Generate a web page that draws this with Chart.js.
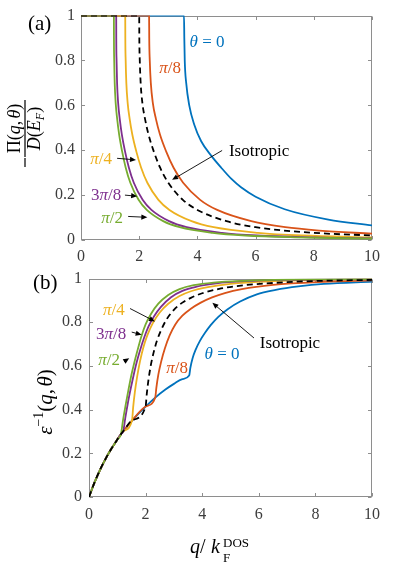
<!DOCTYPE html>
<html>
<head>
<meta charset="utf-8">
<script src="https://cdn.jsdelivr.net/npm/chart.js@4.4.1/dist/chart.umd.min.js"></script>
<style>
html,body{margin:0;padding:0;background:#fff;}
#wrap{position:relative;width:395px;height:568px;overflow:hidden;}
#ca{position:absolute;left:0;top:0;}
#cb{position:absolute;left:0;top:262px;}
</style>
</head>
<body>
<div id="wrap">
  <canvas id="ca" width="395" height="270" style="width:395px;height:270px"></canvas>
  <canvas id="cb" width="395" height="306" style="width:395px;height:306px"></canvas>
</div>
<script>
// tick values shared by both panels
const xTicks=[0,2,4,6,8,10];
const yTicks=[0,0.2,0.4,0.6,0.8,1];

// (a)  -Pi(q,theta)/D(E_F)  vs  q/k_F^DOS
const qa0=[0,3.54,3.55,3.565,3.615,3.72,3.89,4.13,4.48,4.82,5.17,5.5,6,7,8.5,10];                      // theta = 0
const pa0=[1,1,0.90,0.80,0.70,0.60,0.515,0.44,0.375,0.322,0.272,0.235,0.193,0.137,0.091,0.065];
const qa1=[0,2.34,2.345,2.363,2.399,2.469,2.574,2.714,2.925,3.182,3.51,4.095,4.68,5.85,7.02,8.19,10];    // pi/8
const pa1=[1,1,0.90,0.80,0.70,0.61,0.54,0.47,0.395,0.322,0.255,0.179,0.134,0.084,0.057,0.042,0.028];
const qa2=[0,1.52,1.523,1.535,1.558,1.604,1.672,1.763,1.90,2.067,2.28,2.66,3.04,3.8,4.56,6.08,7.6,10];  // pi/4
const pa2=[1,1,0.90,0.80,0.70,0.61,0.54,0.47,0.395,0.322,0.255,0.179,0.134,0.084,0.057,0.032,0.020,0.012];
const qa3=[0,1.21,1.212,1.222,1.24,1.277,1.331,1.404,1.513,1.646,1.815,2.118,2.42,3.025,3.63,4.84,6.05,7.865,10]; // 3pi/8
const pa3=[1,1,0.90,0.80,0.70,0.61,0.54,0.47,0.395,0.322,0.255,0.179,0.134,0.084,0.057,0.032,0.020,0.012,0.007];
const qa4=[0,1.13,1.132,1.141,1.158,1.192,1.243,1.311,1.413,1.537,1.695,1.978,2.26,2.825,3.39,4.52,5.65,7.345,10]; // pi/2
const pa4=[1,1,0.90,0.80,0.70,0.61,0.54,0.47,0.395,0.322,0.255,0.179,0.134,0.084,0.057,0.032,0.020,0.012,0.006];
const qaI=[0,2,2.004,2.02,2.05,2.11,2.2,2.32,2.5,2.72,3,3.5,4,5,6,8,10];                                 // isotropic
const paI=[1,1,0.90,0.80,0.70,0.61,0.54,0.47,0.395,0.322,0.255,0.179,0.134,0.084,0.057,0.032,0.020];

// (b)  eps^-1(q,theta)
const qb0=[0,0.2,0.4,0.6,0.8,1,1.13,1.21,1.52,2,2.34,2.7,3,3.3,3.54,3.58,3.66,3.77,3.92,4.1,4.3,4.57,4.9,5.34,5.93,6.6,7.4,8.3,10];
const eb0=[0,0.068,0.127,0.178,0.223,0.263,0.288,0.301,0.35,0.414,0.455,0.492,0.518,0.54,0.556,0.59,0.635,0.675,0.715,0.752,0.787,0.825,0.86,0.895,0.928,0.948,0.964,0.976,0.986];
const qb1=[0,0.2,0.4,0.6,0.8,1,1.13,1.21,1.52,2,2.34,2.38,2.45,2.55,2.68,2.85,3.05,3.3,3.6,3.95,4.35,4.8,5.4,6.5,8.3,10];
const eb1=[0,0.068,0.127,0.178,0.223,0.263,0.288,0.301,0.35,0.414,0.455,0.50,0.56,0.62,0.68,0.74,0.79,0.83,0.862,0.89,0.914,0.934,0.952,0.971,0.985,0.992];
const qb2=[0,0.2,0.4,0.6,0.8,1,1.13,1.21,1.52,1.56,1.62,1.7,1.8,1.92,2.06,2.25,2.5,2.8,3.2,3.6,4.2,5,6.5,8,10];
const eb2=[0,0.068,0.127,0.178,0.223,0.263,0.288,0.301,0.35,0.41,0.48,0.55,0.62,0.685,0.74,0.795,0.845,0.885,0.92,0.942,0.961,0.976,0.988,0.993,0.996];
const qb3=[0,0.2,0.4,0.6,0.8,1,1.13,1.21,1.28,1.38,1.48,1.58,1.68,1.8,1.95,2.1,2.3,2.55,2.9,3.3,3.8,4.5,5.5,7,10];
const eb3=[0,0.068,0.127,0.178,0.223,0.263,0.288,0.301,0.36,0.435,0.50,0.56,0.615,0.67,0.73,0.78,0.828,0.872,0.915,0.944,0.963,0.978,0.988,0.994,0.997];
const qb4=[0,0.2,0.4,0.6,0.8,1,1.13,1.2,1.3,1.4,1.5,1.6,1.7,1.85,2,2.2,2.45,2.8,3.2,3.7,4.4,5.5,7,10];
const eb4=[0,0.068,0.127,0.178,0.223,0.263,0.288,0.35,0.425,0.495,0.56,0.615,0.665,0.735,0.79,0.84,0.885,0.925,0.952,0.97,0.982,0.99,0.995,0.998];
const qbI=[0,0.2,0.4,0.6,0.8,1,1.13,1.21,1.52,2,2.04,2.1,2.18,2.28,2.4,2.55,2.75,3,3.3,3.6,4,4.6,5.3,6.5,8,10];
const ebI=[0,0.068,0.127,0.178,0.223,0.263,0.288,0.301,0.35,0.414,0.47,0.535,0.60,0.66,0.715,0.765,0.815,0.857,0.89,0.912,0.933,0.953,0.967,0.98,0.989,0.994];

const BLUE="#0072BD", ORANGE="#D95319", YELLOW="#EDB120", PURPLE="#7E2F8E", GREEN="#77AC30";
const SERIF='"Liberation Serif","Times New Roman",serif';
const TXT="#3c3c3c", AXIS="#8e8e8e";

const pts=(qs,vs)=>qs.map((q,i)=>({x:q,y:vs[i]}));
const line=(qs,vs,color,dash)=>({data:pts(qs,vs),borderColor:color,borderWidth:1.8,borderDash:dash||[],
  pointRadius:0,fill:false,cubicInterpolationMode:"monotone"});

// first dataset is drawn last (on top)
function sets(panel){
  if(panel==="a") return [line(qaI,paI,"#000",[6,4]),line(qa4,pa4,GREEN),line(qa3,pa3,PURPLE),line(qa2,pa2,YELLOW),line(qa1,pa1,ORANGE),line(qa0,pa0,BLUE)];
  return [line(qbI,ebI,"#000",[6,4]),line(qb4,eb4,GREEN),line(qb3,eb3,PURPLE),line(qb2,eb2,YELLOW),line(qb1,eb1,ORANGE),line(qb0,eb0,BLUE)];
}

function scales(yW,xH,xPad,yPad){
  const f={family:SERIF,size:16};
  return {
    x:{type:"linear",min:0,max:10,afterBuildTicks:s=>{s.ticks=xTicks.map(v=>({value:v}));},
       ticks:{font:f,color:TXT,padding:xPad,maxRotation:0,callback:v=>String(v)},
       grid:{display:false,drawTicks:false},border:{display:false},afterFit:s=>{s.height=xH;}},
    y:{type:"linear",min:0,max:1,afterBuildTicks:s=>{s.ticks=yTicks.map(v=>({value:v}));},
       ticks:{font:f,color:TXT,padding:yPad,callback:v=>String(v)},
       grid:{display:false,drawTicks:false},border:{display:false},afterFit:s=>{s.width=yW;}}
  };
}

// draws a run of text pieces: [text, size, italic, dy]
function rich(ctx,parts,x,y,align){
  const fnt=p=>(p[2]?"italic ":"")+p[1]+"px "+SERIF;
  let w=0; parts.forEach(p=>{ctx.font=fnt(p); w+=ctx.measureText(p[0]).width;});
  let cx=align==="center"?x-w/2:align==="right"?x-w:x;
  parts.forEach(p=>{ctx.font=fnt(p); ctx.fillText(p[0],cx,y+(p[3]||0)); cx+=ctx.measureText(p[0]).width;});
}

function arrow(ctx,x0,y0,x1,y1){
  const a=Math.atan2(y1-y0,x1-x0), L=6, H=2.6;
  ctx.strokeStyle="#000"; ctx.fillStyle="#000"; ctx.lineWidth=0.9;
  ctx.beginPath(); ctx.moveTo(x0,y0); ctx.lineTo(x1-Math.cos(a)*L*0.8,y1-Math.sin(a)*L*0.8); ctx.stroke();
  ctx.beginPath(); ctx.moveTo(x1,y1);
  ctx.lineTo(x1-L*Math.cos(a)+H*Math.sin(a),y1-L*Math.sin(a)-H*Math.cos(a));
  ctx.lineTo(x1-L*Math.cos(a)-H*Math.sin(a),y1-L*Math.sin(a)+H*Math.cos(a));
  ctx.closePath(); ctx.fill();
}

function deco(cfg){
  return {
    id:"deco",
    beforeDatasetsDraw(chart){
      const {ctx,chartArea:c,scales:{x,y}}=chart;
      ctx.save(); ctx.strokeStyle=AXIS; ctx.lineWidth=1;
      const l=Math.round(c.left)+0.5, r=Math.round(c.right)-0.5, t=Math.round(c.top)+0.5, b=Math.round(c.bottom)-0.5;
      ctx.strokeRect(l,t,r-l,b-t);
      ctx.beginPath();
      xTicks.forEach(v=>{const p=Math.round(x.getPixelForValue(v))+0.5; ctx.moveTo(p,b); ctx.lineTo(p,b-3.5); ctx.moveTo(p,t); ctx.lineTo(p,t+3.5);});
      yTicks.forEach(v=>{const p=Math.round(y.getPixelForValue(v))+0.5; ctx.moveTo(l,p); ctx.lineTo(l+3.5,p); ctx.moveTo(r,p); ctx.lineTo(r-3.5,p);});
      ctx.stroke(); ctx.restore();
    },
    afterDatasetsDraw(chart){
      const {ctx,scales:{x,y}}=chart;
      ctx.save(); ctx.textBaseline="middle";
      cfg.labels.forEach(L=>{ctx.fillStyle=L.color; rich(ctx,L.parts,x.getPixelForValue(L.q),y.getPixelForValue(L.v),"center");});
      cfg.arrows.forEach(A=>arrow(ctx,x.getPixelForValue(A[0]),y.getPixelForValue(A[1]),x.getPixelForValue(A[2]),y.getPixelForValue(A[3])));
      ctx.textBaseline="alphabetic"; ctx.fillStyle="#000";
      cfg.titles(ctx);
      ctx.restore();
    }
  };
}

const pi=(n)=>[["π",17,true],["/",17],[n,17]];
const thetaZero=[["θ",17,true],[" = 0",17]];

const decoA=deco({
  labels:[
    {q:4.33,v:0.882,color:BLUE,parts:thetaZero},
    {q:3.06,v:0.763,color:ORANGE,parts:pi("8")},
    {q:0.69,v:0.36,color:YELLOW,parts:pi("4")},
    {q:0.86,v:0.197,color:PURPLE,parts:[["3",17],["π",17,true],["/",17],["8",17]]},
    {q:1.07,v:0.096,color:GREEN,parts:pi("2")},
    {q:6.12,v:0.395,color:"#000",parts:[["Isotropic",17]]}
  ],
  arrows:[[1.24,0.364,1.89,0.357],[1.51,0.2,1.93,0.195],[1.62,0.105,2.28,0.101],[4.85,0.399,3.13,0.268]],
  titles(ctx){
    rich(ctx,[["(a)",21]],28,30,"left");
    ctx.save(); ctx.translate(25,130); ctx.rotate(-Math.PI/2);
    rich(ctx,[["Π",18],["(",18],["q",18,true],[",",18],[" ",9],["θ",18,true],[")",18]],1.5,-5,"center");
    ctx.fillRect(-27,-0.6,57,1.2);
    rich(ctx,[["D",18,true],["(",18],["E",18,true],["F",12,true,4],[")",18]],1.5,15,"center");
    ctx.fillRect(-37,-0.6,9,1.2);
    ctx.restore();
  }
});

const decoB=deco({
  labels:[
    {q:0.88,v:0.854,color:YELLOW,parts:pi("4")},
    {q:0.78,v:0.746,color:PURPLE,parts:[["3",17],["π",17,true],["/",17],["8",17]]},
    {q:0.71,v:0.625,color:GREEN,parts:pi("2")},
    {q:3.11,v:0.589,color:ORANGE,parts:pi("8")},
    {q:4.70,v:0.652,color:BLUE,parts:thetaZero},
    {q:7.10,v:0.701,color:"#000",parts:[["Isotropic",17]]}
  ],
  arrows:[[1.45,0.863,2.33,0.804],[1.51,0.755,1.86,0.743],[1.24,0.62,1.42,0.635],[5.83,0.728,4.36,0.889]],
  titles(ctx){
    rich(ctx,[["(b)",21]],33,27,"left");
    ctx.save(); ctx.translate(46,140); ctx.rotate(-Math.PI/2);
    rich(ctx,[["ε",21,true],["−1",14,false,-9],["(",21],["q",21,true],[",",21],[" ",10],["θ",21,true],[")",21]],0,6,"center");
    ctx.restore();
    rich(ctx,[["q",20,true]],190,291,"left");
    rich(ctx,[["/",20]],200,291,"left");
    rich(ctx,[["k",20,true]],211,291,"left");
    rich(ctx,[["DOS",13]],223,285,"left");
    rich(ctx,[["F",13]],223,300,"left");
  }
});

const common={animation:false,responsive:false,events:[],
  plugins:{legend:{display:false},tooltip:{enabled:false}}};

new Chart(document.getElementById("ca"),{type:"line",data:{datasets:sets("a")},
  options:{...common,layout:{padding:{left:0,right:23,top:12,bottom:0}},scales:scales(81,30,7,6)},plugins:[decoA]});
new Chart(document.getElementById("cb"),{type:"line",data:{datasets:sets("b")},
  options:{...common,layout:{padding:{left:0,right:23,top:12.5,bottom:0}},scales:scales(89,71,8,7)},plugins:[decoB]});
</script>
</body>
</html>
